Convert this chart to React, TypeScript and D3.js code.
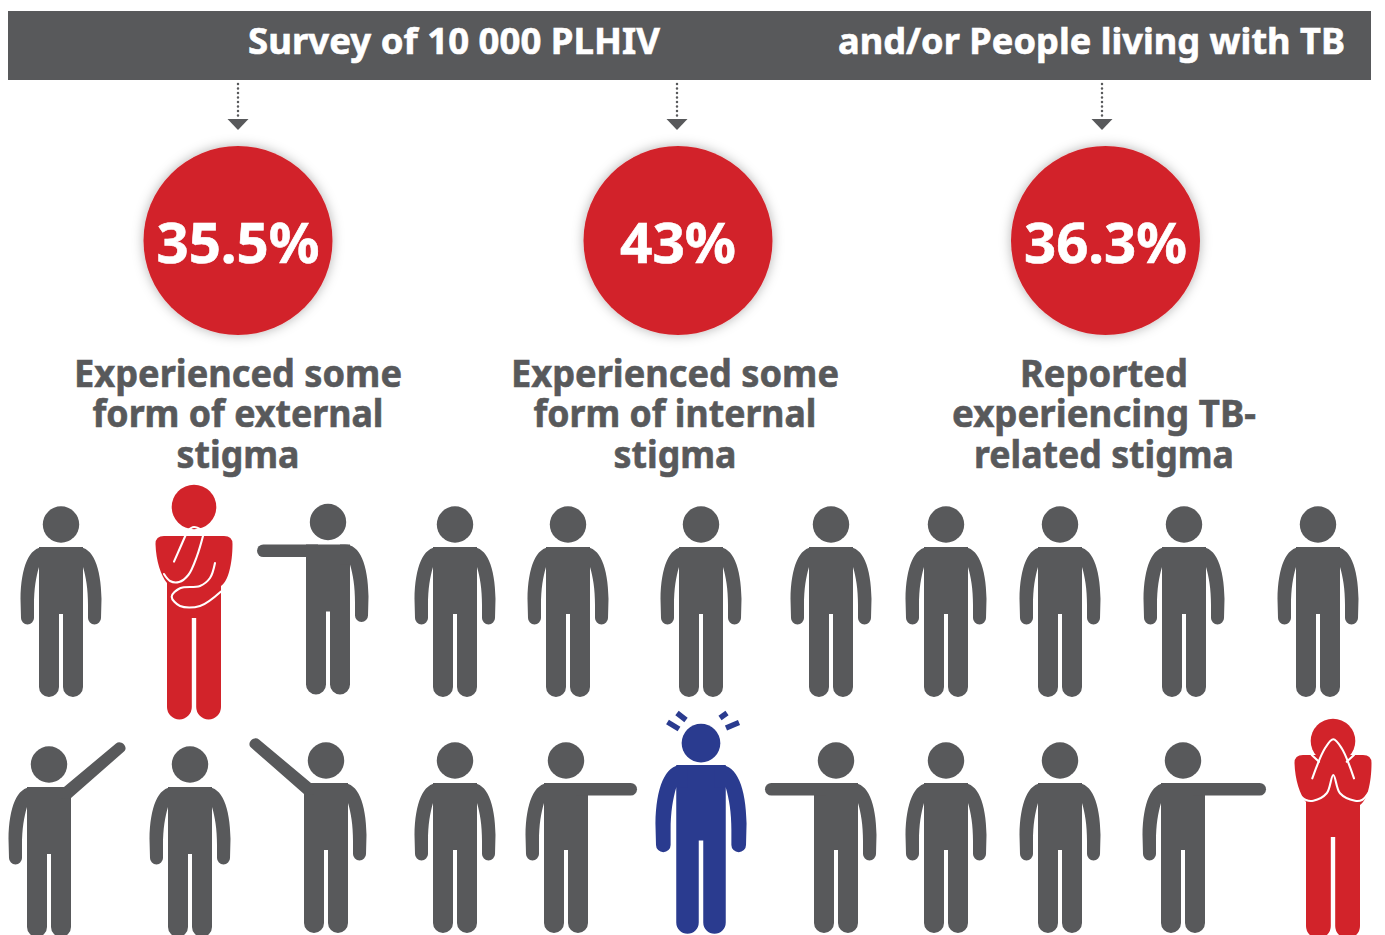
import React from 'react';
import * as d3 from 'd3';

const GREY = '#58595b';
const RED = '#d2232a';
const BLUE = '#2a3b8f';
const FONT = '"Noto Sans", sans-serif';

// ---- data
const titleParts = ['Survey of 10 000 PLHIV', 'and/or People living with TB'];
const statValues = [35.5, 43, 36.3];
const statLabels = [
  ['Experienced some', 'form of external', 'stigma'],
  ['Experienced some', 'form of internal', 'stigma'],
  ['Reported', 'experiencing TB-', 'related stigma'],
];
const topPoses = ['stand', 'think', 'pointLeft', 'stand', 'stand', 'stand', 'stand', 'stand', 'stand', 'stand', 'stand'];
const bottomPoses = ['raiseRight', 'stand', 'raiseLeft', 'stand', 'pointRight', 'alarm', 'pointLeft', 'stand', 'stand', 'pointFar', 'cover'];

// ---- layout
const idx = d3.range(11);
const xTop = d3.scaleOrdinal<number, number>().domain(idx).range([61, 194, 328, 455, 568, 701, 831, 946, 1060, 1184, 1318]);
const yTop = d3.scaleOrdinal<number, number>().domain(idx).range([547, 536, 544.5, 547, 547, 547, 547, 547, 547, 547, 547]);
const xBottom = d3.scaleOrdinal<number, number>().domain(idx).range([49, 190, 326, 455, 566, 701, 836, 946, 1060, 1183, 1333]);
const yBottom = d3.scaleOrdinal<number, number>().domain(idx).range([787, 787, 783, 783, 783, 765, 783, 783, 783, 783, 755]);
const statX = d3.scaleOrdinal<number, number>().domain(d3.range(3)).range([238, 678, 1105.5]);
const arrowX = d3.scaleOrdinal<number, number>().domain(d3.range(3)).range([238, 677, 1102]);
const labelX = d3.scaleOrdinal<number, number>().domain(d3.range(3)).range([238, 675, 1104]);
const titleBox = [{ x: 248, w: 412 }, { x: 838, w: 507 }];
const statW = [163, 116, 163];
const labelW = [[328, 291, 123], [328, 283, 123], [168, 304, 260]];
const labelY = [387, 427, 468];

// ---- glyph pieces, in pixels from the centre of the shoulders
const torso = (() => {
  const p = d3.path();
  p.moveTo(-22, 0);
  p.lineTo(-22, 140);
  p.arc(-12, 140, 10, Math.PI, 0, true);
  p.lineTo(-2, 67);
  p.lineTo(2, 67);
  p.lineTo(2, 140);
  p.arc(12, 140, 10, Math.PI, 0, true);
  p.lineTo(22, 0);
  p.closePath();
  return p.toString();
})();

const armDown = (() => {
  const p = d3.path();
  p.moveTo(12, 0);
  p.lineTo(17, 0);
  p.bezierCurveTo(32, 0, 40, 20, 40.5, 52);
  p.lineTo(40, 71);
  p.arc(33.5, 71, 6.5, 0, Math.PI, false);
  p.lineTo(27, 58);
  p.bezierCurveTo(27, 42, 25, 30, 22, 20);
  p.lineTo(12, 20);
  p.closePath();
  return p.toString();
})();

const armOut = (reach: number) => {
  const p = d3.path();
  p.moveTo(10, 0);
  p.lineTo(reach - 6.3, 0);
  p.arc(reach - 6.3, 6.3, 6.3, -Math.PI / 2, Math.PI / 2, false);
  p.lineTo(10, 12.6);
  p.closePath();
  return p.toString();
};

const armRaised = (() => {
  const p = d3.path();
  p.moveTo(12, 0);
  p.lineTo(15, 0);
  p.lineTo(67, -43.5);
  p.bezierCurveTo(72, -47.5, 80, -40, 75, -35.5);
  p.lineTo(22, 11);
  p.lineTo(12, 12);
  p.closePath();
  return p.toString();
})();

// the red figures have a shared outline and differ only in the white lines
const redBody = (() => {
  const p = d3.path();
  p.moveTo(-30, 0);
  p.lineTo(30, 0);
  p.quadraticCurveTo(38.5, 0, 38.5, 8);
  p.bezierCurveTo(38.5, 28, 34, 46, 27, 50);
  p.lineTo(27, 171);
  p.arc(14.6, 171, 12.4, 0, Math.PI, false);
  p.lineTo(2.2, 82);
  p.lineTo(-2.2, 82);
  p.lineTo(-2.2, 171);
  p.arc(-14.6, 171, 12.4, 0, Math.PI, false);
  p.lineTo(-27, 47);
  p.bezierCurveTo(-33, 40, -38, 25, -38.5, 8);
  p.quadraticCurveTo(-38.5, 0, -30, 0);
  p.closePath();
  return p.toString();
})();

const curve = (pts: [number, number][]) => d3.line().curve(d3.curveCatmullRom.alpha(0.5))(pts) as string;

const thinkLines = [
  curve([[-20, 25.6], [-14, 12], [-8.3, -1]]),
  curve([[-7.3, -5], [0, -9], [7.7, -6]]),
  curve([[9, 0], [3, 20], [-5.7, 39], [-15, 46], [-24, 45], [-30, 38]]),
  curve([[21, 27], [16, 42], [6, 50], [-14, 52.3], [-22.3, 60.7], [-14, 70], [6, 70], [26.7, 55.7]]),
];

const coverLines = [
  curve([[-20.7, 23.3], [-8, -6.7], [0.3, -15.7], [8.7, -6.7], [21, 23.3]]),
  curve([[-36, 38], [-27, 45], [-19.7, 45.7], [-6.3, 38.3], [0.3, 20], [7, 38.3], [22, 45.7], [29, 45], [35.3, 38]]),
  curve([[-21.3, 0], [-14, 6.7]]),
  curve([[21, 0], [13.7, 6.7]]),
];

const alarmTicks: [number, number, number, number][] = [
  [-33.5, -43, -22, -36],
  [-24, -52, -15, -45],
  [19, -47, 26, -52],
  [25, -37, 38, -42.5],
];

function Figure({ pose, x, y }: { pose: string; x: number; y: number }) {
  if (pose === 'think' || pose === 'cover') {
    const lines = pose === 'think' ? thinkLines : coverLines;
    return (
      <g transform={`translate(${x},${y})`}>
        <circle cx={0} cy={pose === 'think' ? -29 : -14} r={22.3} fill={RED} />
        <path d={redBody} fill={RED} />
        {lines.map((d, i) => (
          <path key={i} d={d} fill="none" stroke="#fff" strokeWidth={2.1} strokeLinecap="round" />
        ))}
      </g>
    );
  }

  const k = pose === 'alarm' ? 1.125 : 1;
  const fill = pose === 'alarm' ? BLUE : GREY;
  const arms: [string, number][] =
    pose === 'pointLeft' ? [[armDown, 1], [armOut(71), -1]]
      : pose === 'pointRight' ? [[armDown, -1], [armOut(71), 1]]
        : pose === 'pointFar' ? [[armDown, -1], [armOut(83), 1]]
          : pose === 'raiseRight' ? [[armDown, -1], [armRaised, 1]]
            : pose === 'raiseLeft' ? [[armDown, 1], [armRaised, -1]]
              : [[armDown, 1], [armDown, -1]];

  return (
    <g transform={`translate(${x},${y})`} fill={fill}>
      <g transform={`scale(${k})`}>
        <circle cx={0} cy={pose === 'alarm' ? -19.5 : -22.5} r={pose === 'alarm' ? 17.2 : 18.2} />
        <path d={torso} />
        {arms.map(([d, side], i) => (
          <path key={i} d={d} transform={`scale(${side},1)`} />
        ))}
      </g>
      {pose === 'alarm' && alarmTicks.map((t, i) => (
        <line key={i} x1={t[0]} y1={t[1]} x2={t[2]} y2={t[3]} stroke={BLUE} strokeWidth={5.4} />
      ))}
    </g>
  );
}

export default function App() {
  return (
    <svg
      width={1385}
      height={935}
      viewBox="0 0 1385 935"
      style={{ position: 'absolute', left: 0, top: 0, display: 'block', background: '#fff' }}
      fontFamily={FONT}
      fontWeight={700}
    >
      <defs>
        <filter id="soft" x="-20%" y="-20%" width="140%" height="140%">
          <feDropShadow dx={0} dy={0} stdDeviation={6} floodColor="#000" floodOpacity={0.3} />
        </filter>
      </defs>

      <rect x={8} y={11} width={1363} height={69} fill={GREY} />
      {titleParts.map((t, i) => (
        <text key={t} x={titleBox[i].x} y={54} fontSize={36} fill="#fff" stroke="#fff" strokeWidth={0.6} textLength={titleBox[i].w} lengthAdjust="spacingAndGlyphs">
          {t}
        </text>
      ))}

      {statValues.map((v, i) => (
        <g key={i}>
          <line x1={arrowX(i)} x2={arrowX(i)} y1={84} y2={120} stroke={GREY} strokeWidth={2.5} strokeLinecap="round" strokeDasharray="0.1 4.4" />
          <path d={`M${arrowX(i) - 10.5},119 h21 l-10.5,11 z`} fill={GREY} />
          <circle cx={statX(i)} cy={240.5} r={94.5} fill={RED} filter="url(#soft)" />
          <text x={statX(i)} y={263} fontSize={55} fill="#fff" stroke="#fff" strokeWidth={0.6} textAnchor="middle" textLength={statW[i]} lengthAdjust="spacingAndGlyphs">
            {`${v}%`}
          </text>
          {statLabels[i].map((line, j) => (
            <text key={j} x={labelX(i)} y={labelY[j]} fontSize={38} fill={GREY} stroke={GREY} strokeWidth={0.6} textAnchor="middle" textLength={labelW[i][j]} lengthAdjust="spacingAndGlyphs">
              {line}
            </text>
          ))}
        </g>
      ))}

      {topPoses.map((pose, i) => (
        <Figure key={i} pose={pose} x={xTop(i)} y={yTop(i)} />
      ))}
      {bottomPoses.map((pose, i) => (
        <Figure key={i} pose={pose} x={xBottom(i)} y={yBottom(i)} />
      ))}
    </svg>
  );
}
